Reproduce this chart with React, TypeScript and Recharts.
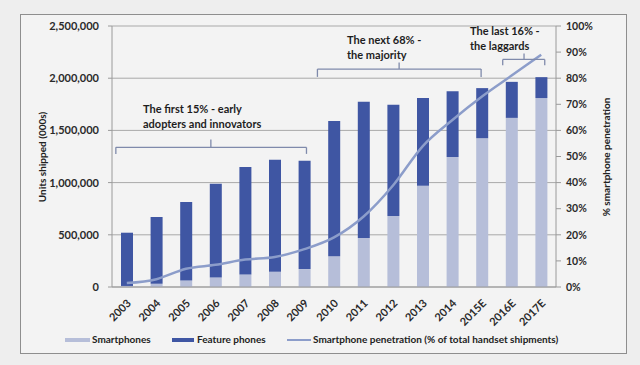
import React from 'react';
import {
  ComposedChart, Bar, Line, XAxis, YAxis, CartesianGrid, ReferenceLine,
} from 'recharts';

const years = ['2003', '2004', '2005', '2006', '2007', '2008', '2009', '2010', '2011', '2012', '2013', '2014', '2015E', '2016E', '2017E'];
const smartphones = [10000, 30000, 62000, 90000, 120000, 145000, 172000, 295000, 470000, 680000, 970000, 1245000, 1425000, 1620000, 1810000];
const featurePhones = [510000, 640000, 753000, 900000, 1030000, 1075000, 1038000, 1295000, 1305000, 1065000, 840000, 630000, 480000, 345000, 200000];
const penetration = [1.5, 3, 7, 8.5, 10.5, 11.5, 14.5, 19, 27, 39, 54, 64, 73, 81, 89];

const unitTicks = [0, 500000, 1000000, 1500000, 2000000, 2500000];
const pctTicks = [0, 10, 20, 30, 40, 50, 60, 70, 80, 90, 100];
const boundaryTicks = [-0.5, 0.5, 1.5, 2.5, 3.5, 4.5, 5.5, 6.5, 7.5, 8.5, 9.5, 10.5, 11.5, 12.5, 13.5, 14.5];

// brackets: [left idx, right idx, center idx, y line %, y end %, y tick %]
const brackets = [
  { x1: -0.37, x2: 6.07, xc: 2.84, y: 53.5, yEnd: 51, yTick: 56.5 },
  { x1: 6.44, x2: 11.97, xc: 9.2, y: 83.5, yEnd: 80.5, yTick: 86 },
  { x1: 12.7, x2: 14.12, xc: 13.42, y: 87.2, yEnd: 85, yTick: 89.5 },
];

const annotations = [
  { lines: ['The first 15% - early', 'adopters and innovators'], left: 143, top: 101 },
  { lines: ['The next 68% -', 'the majority'], left: 347, top: 32 },
  { lines: ['The last 16% -', 'the laggards'], left: 470, top: 23 },
];

const data = years.map((y, i) => ({
  year: y,
  idx: i,
  smart: smartphones[i],
  feature: featurePhones[i],
  pen: penetration[i],
}));

const DARK = '#3f56a3';
const LIGHT = '#b6bed9';
const LINE = '#8c9dca';
const GRID = '#a9a9a9';
const FONT = 'Lato, "Open Sans", sans-serif';

const fmt = (v: number) => v.toLocaleString('en-US');

const XTick = (props: any) => {
  const { x, y, payload } = props;
  const tx = x + 5;
  const ty = y + 11;
  return (
    <text x={tx} y={ty} transform={`rotate(-45, ${tx}, ${ty})`} textAnchor="end"
      fontSize={11} fontWeight={700} fill="#2a2a2a" fontFamily={FONT}>
      {payload.value}
    </text>
  );
};

export default function App() {
  return (
    <div style={{ position: 'absolute', left: 0, top: 0, width: 640, height: 365, background: '#eeeeee', fontFamily: FONT, overflow: 'hidden' }}>
      <div style={{ position: 'absolute', left: 20, top: 14, width: 605, height: 338, border: '1.5px solid #8e8e8e', background: '#f3f3f3' }} />
      <div style={{ position: 'absolute', left: 0, top: 0 }}>
        <ComposedChart width={640} height={365} data={data}
          margin={{ top: 26, right: 34, bottom: 40, left: 52 }}>
          <CartesianGrid yAxisId="left" xAxisId="cat" vertical={false} stroke={GRID} strokeWidth={1} />
          <XAxis xAxisId="idx" dataKey="idx" type="number" domain={[-0.5, 14.5]} allowDataOverflow
            ticks={boundaryTicks} tickFormatter={() => ''} axisLine={false} tickSize={4}
            tickLine={{ stroke: '#9a9a9a' }} height={0} />
          <XAxis xAxisId="cat" dataKey="year" interval={0} tickLine={false}
            axisLine={{ stroke: '#9a9a9a' }} tick={<XTick />} height={38} tickMargin={0} />
          <YAxis yAxisId="left" domain={[0, 2500000]} ticks={unitTicks} tickFormatter={fmt}
            width={60} tickSize={4} tickMargin={9} axisLine={{ stroke: '#9a9a9a' }} tickLine={{ stroke: '#9a9a9a' }}
            tick={{ fontSize: 11, fontWeight: 700, fill: '#2a2a2a', fontFamily: FONT }} />
          <YAxis yAxisId="right" orientation="right" domain={[0, 100]} ticks={pctTicks}
            tickFormatter={(v: number) => `${v}%`} width={50} tickSize={5} tickMargin={5}
            axisLine={{ stroke: '#9a9a9a' }} tickLine={{ stroke: '#9a9a9a' }}
            tick={{ fontSize: 10.5, fontWeight: 700, fill: '#2a2a2a', fontFamily: FONT, textAnchor: 'start' }} />
          <Bar xAxisId="cat" yAxisId="left" dataKey="smart" stackId="s" fill={LIGHT} barSize={12} isAnimationActive={false} />
          <Bar xAxisId="cat" yAxisId="left" dataKey="feature" stackId="s" fill={DARK} barSize={12} isAnimationActive={false} />
          <Line xAxisId="cat" yAxisId="right" dataKey="pen" type="monotone" stroke={LINE} strokeWidth={2.5}
            dot={false} isAnimationActive={false} />
          {brackets.map((b, i) => (
            <React.Fragment key={i}>
              <ReferenceLine xAxisId="idx" yAxisId="right" segment={[{ x: b.x1, y: b.y }, { x: b.x2, y: b.y }]} stroke="#7f8aab" strokeWidth={1.3} />
              <ReferenceLine xAxisId="idx" yAxisId="right" segment={[{ x: b.x1, y: b.y }, { x: b.x1, y: b.yEnd }]} stroke="#7f8aab" strokeWidth={1.3} />
              <ReferenceLine xAxisId="idx" yAxisId="right" segment={[{ x: b.x2, y: b.y }, { x: b.x2, y: b.yEnd }]} stroke="#7f8aab" strokeWidth={1.3} />
              <ReferenceLine xAxisId="idx" yAxisId="right" segment={[{ x: b.xc, y: b.y }, { x: b.xc, y: b.yTick }]} stroke="#7f8aab" strokeWidth={1.3} />
            </React.Fragment>
          ))}
        </ComposedChart>
      </div>
      {annotations.map((a, i) => (
        <div key={i} style={{ position: 'absolute', left: a.left, top: a.top, fontSize: 11, fontWeight: 700, color: '#1e1e1e', lineHeight: '15px', whiteSpace: 'nowrap' }}>
          {a.lines.map((l, j) => <div key={j}>{l}</div>)}
        </div>
      ))}
      <div style={{ position: 'absolute', left: 42, top: 157, transform: 'translate(-50%, -50%) rotate(-90deg)', fontSize: 10, fontWeight: 700, color: '#222', whiteSpace: 'nowrap' }}>
        Units shipped (000s)
      </div>
      <div style={{ position: 'absolute', left: 606, top: 157, transform: 'translate(-50%, -50%) rotate(-90deg)', fontSize: 10, fontWeight: 700, color: '#222', whiteSpace: 'nowrap' }}>
        % smartphone penetration
      </div>
      <div style={{ position: 'absolute', left: 0, top: 332, height: 16, width: 640, fontSize: 10, fontWeight: 700, color: '#222' }}>
        <div style={{ position: 'absolute', left: 65, top: 6, width: 25, height: 4, background: LIGHT }} />
        <div style={{ position: 'absolute', left: 92, top: 1, whiteSpace: 'nowrap' }}>Smartphones</div>
        <div style={{ position: 'absolute', left: 172, top: 6, width: 22, height: 4, background: DARK }} />
        <div style={{ position: 'absolute', left: 197, top: 1, whiteSpace: 'nowrap' }}>Feature phones</div>
        <div style={{ position: 'absolute', left: 287, top: 7, width: 24, height: 2, background: LINE }} />
        <div style={{ position: 'absolute', left: 313, top: 1, whiteSpace: 'nowrap' }}>Smartphone penetration (% of total handset shipments)</div>
      </div>
    </div>
  );
}
